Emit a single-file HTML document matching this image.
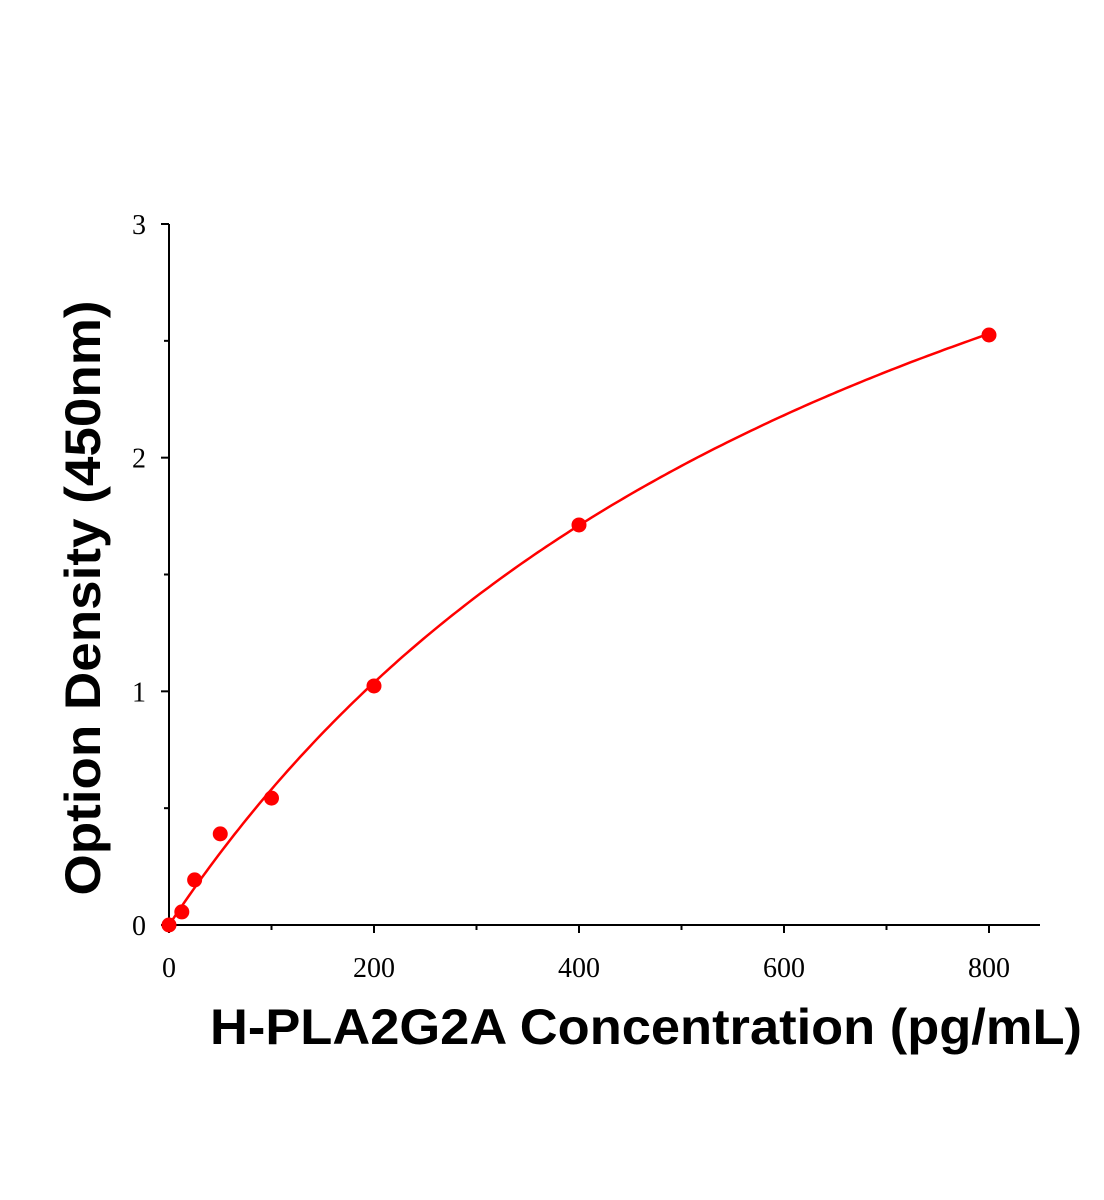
<!DOCTYPE html>
<html><head><meta charset="utf-8"><style>
body{margin:0;background:#fff}
svg{display:block}
</style></head><body>
<svg id="chart" width="1104" height="1200" viewBox="0 0 1104 1200" xmlns="http://www.w3.org/2000/svg">
<g id="axes"></g>
<g id="curve"></g>
<g id="points"></g>
<text x="646" y="1044" text-anchor="middle" textLength="872" lengthAdjust="spacingAndGlyphs" font-family="Liberation Sans, sans-serif" font-weight="bold" font-size="50">H-PLA2G2A Concentration (pg/mL)</text>
<text transform="translate(100,598) rotate(-90)" text-anchor="middle" textLength="595" lengthAdjust="spacingAndGlyphs" font-family="Liberation Sans, sans-serif" font-weight="bold" font-size="50">Option Density (450nm)</text>
</svg>
<script>
const concentrations=[0,12.5,25,50,100,200,400,800];
const odValues=[0,0.056,0.193,0.39,0.543,1.023,1.712,2.525];
const xTicks=[0,200,400,600,800];
const xMinorTicks=[100,300,500,700];
const yTicks=[0,1,2,3];
const yMinorTicks=[0.5,1.5,2.5];
const fitParams=[4.861,737]; // y = a*x/(b+x)
const NS="http://www.w3.org/2000/svg";
const x0=169,xs=(989-169)/800,y0=925,ys=(925-224)/3;
const X=v=>x0+v*xs, Y=v=>y0-v*ys;
function mk(t,a,p){const e=document.createElementNS(NS,t);for(const k in a)e.setAttribute(k,a[k]);p.appendChild(e);return e;}
const ax=document.getElementById('axes');
let l=mk('line',{x1:x0,y1:y0,x2:1040,y2:y0,stroke:'#000','stroke-width':2},ax);


l=mk('line',{x1:x0,y1:y0,x2:x0,y2:Y(3),stroke:'#000','stroke-width':2},ax);


xTicks.forEach(v=>{
 const t=mk('line',{x1:X(v),y1:y0,x2:X(v),y2:y0+8,stroke:'#000','stroke-width':2},ax);
 
 
 const tx=mk('text',{x:X(v),y:977,'text-anchor':'middle','font-family':'Liberation Serif, serif','font-size':28},ax);
 tx.textContent=v;
 
 
});
xMinorTicks.forEach(v=>{
 const t=mk('line',{x1:X(v),y1:y0,x2:X(v),y2:y0+5,stroke:'#000','stroke-width':2},ax);
 
 
});
yTicks.forEach(v=>{
 const t=mk('line',{x1:x0-8,y1:Y(v),x2:x0,y2:Y(v),stroke:'#000','stroke-width':2},ax);
 
 
 const tx=mk('text',{x:146,y:Y(v)+10,'text-anchor':'end','font-family':'Liberation Serif, serif','font-size':28},ax);
 tx.textContent=v;
 
 
});
yMinorTicks.forEach(v=>{
 const t=mk('line',{x1:x0-5,y1:Y(v),x2:x0,y2:Y(v),stroke:'#000','stroke-width':2},ax);
 
 
});
const cg=document.getElementById('curve');
let d='';
for(let i=0;i<=200;i++){const c=i*4;const v=fitParams[0]*c/(fitParams[1]+c);d+=(i?'L':'M')+X(c).toFixed(1)+','+Y(v).toFixed(1);}
const p=mk('path',{d:d,fill:'none',stroke:'#ff0000','stroke-width':2.5},cg);


const pg=document.getElementById('points');
concentrations.forEach((c,i)=>{
 const e=mk('circle',{cx:X(c),cy:Y(odValues[i]),r:7.5,fill:'#ff0000'},pg);
 
 
});
</script>
</body></html>
